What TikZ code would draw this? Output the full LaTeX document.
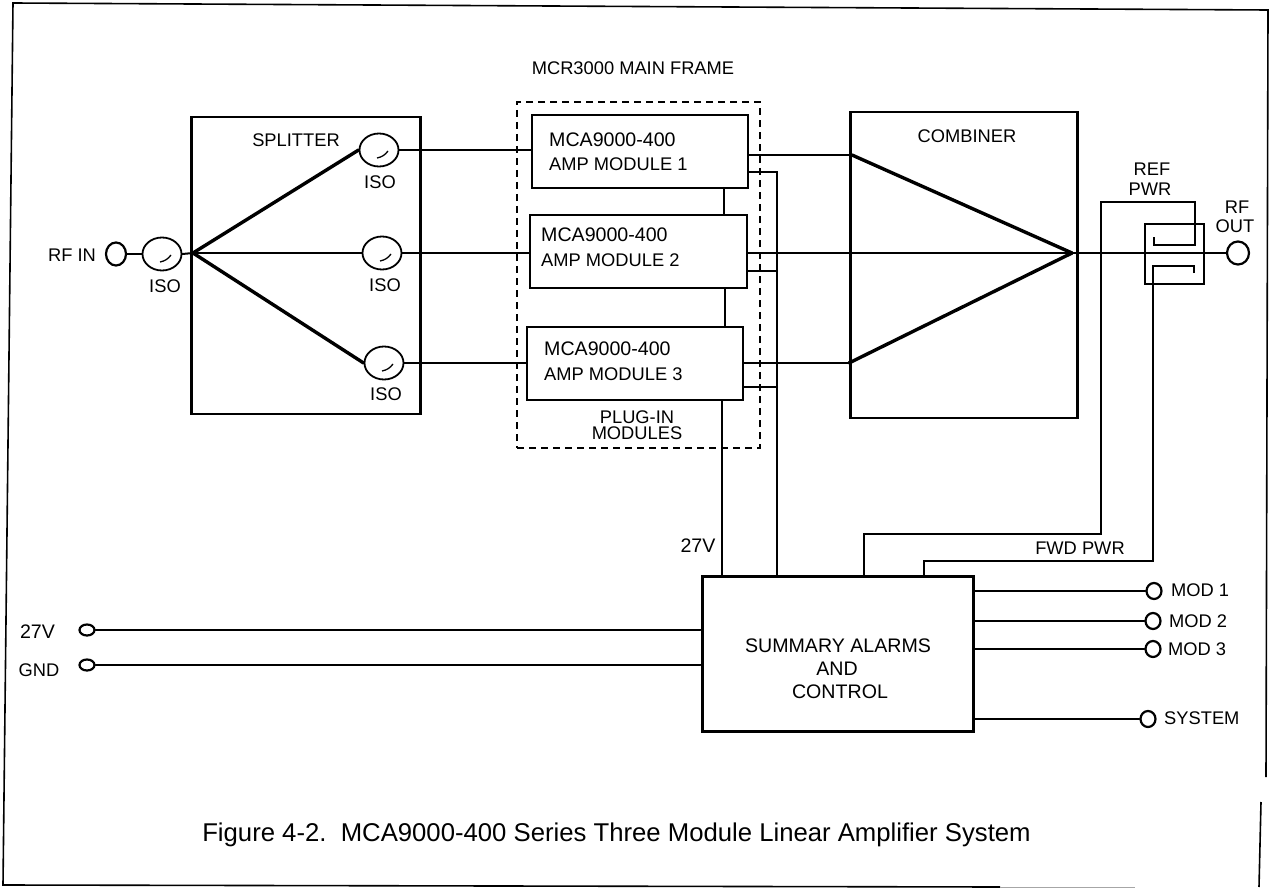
\documentclass[tikz,border=0pt]{standalone}
\usepackage{fontspec}
\setmainfont{Liberation Sans}
\usetikzlibrary{calc,shapes.geometric}

\tikzset{
	wire/.style={line width=2pt, line cap=round},
	wirethin/.style={line width=1.3pt},
	wirethick/.style={line width=3.4pt, line cap=round},
	boxa/.style={draw, line width=2.4pt, inner sep=0pt},
	isolator/.style={draw, ellipse, line width=1.8pt, inner sep=0pt, minimum width=39, minimum height=33},
	port/.style={draw, ellipse, line width=2.2pt, inner sep=0pt, minimum width=15, minimum height=16},
	lbl/.style={inner sep=0pt, font=\fontsize{18.3}{20}\selectfont},
	lblwide/.style={lbl, font=\fontsize{19.6}{22}\selectfont},
}

\begin{document}
\begin{tikzpicture}[x=1pt, y=-1pt]
	\useasboundingbox (0,0) rectangle (1270,888);

	% outer frame
	\draw [line width=1.6pt] (1266,777) -- (1268,10) -- (13,3) -- (3,885) -- (1000,887);
	\draw [line width=1.6pt] (1261,802) -- (1259,887);
	\draw [line width=1pt, black!35] (1000,887) -- (1135,887);

	% boxes
	\node [boxa, minimum width=229, minimum height=297] (splitter) at (306,265.5) {};
	\node [boxa, minimum width=216, minimum height=73] (amp1) at (640,151.5) {};
	\node [boxa, minimum width=217, minimum height=73] (amp2) at (638.5,251.5) {};
	\node [boxa, minimum width=216, minimum height=73] (amp3) at (635,363.5) {};
	\node [boxa, minimum width=227, minimum height=306] (combiner) at (964,265) {};
	\node [boxa, line width=3pt, minimum width=271, minimum height=155] (summary) at (837.5,653.5) {};
	\node [draw, dash pattern=on 7pt off 5pt, line width=1.5pt, minimum width=243, minimum height=346] (frame) at (638.5,275) {};
	\node [draw, line width=1.3pt, minimum width=59, minimum height=60] (coupler) at (1174.5,254) {};

	% isolators
	\node [isolator] (isoin) at (162,254) {};
	\node [isolator] (isoa) at (379,150) {};
	\node [isolator] (isob) at (382,253) {};
	\node [isolator] (isoc) at (384,363) {};
	\foreach \iso in {isoin,isoa,isob,isoc}
		\draw [wirethin] ($(\iso)+(-2,8)$) .. controls ($(\iso)+(3,7)$) and ($(\iso)+(6,5)$) .. ($(\iso)+(9,1)$);

	% ports
	\node [port, minimum width=20, minimum height=23] (rfin) at (116,254) {};
	\node [port, minimum width=22, minimum height=23] (rfout) at (1238,253) {};
	\node [port, minimum height=11] (dcv) at (87,630) {};
	\node [port, minimum height=11] (dcgnd) at (87,665) {};
	\node [port] (moda) at (1154,591) {};
	\node [port] (modb) at (1153,621) {};
	\node [port] (modc) at (1153,649) {};
	\node [port] (system) at (1148,719) {};

	\coordinate (splitjoin) at (193,253);
	\coordinate (combjoin) at (1072,253);
	\coordinate (combup) at (852,155);
	\coordinate (comblow) at (849,363);

	% splitter and combiner
	\draw [wire] (rfin.east) -- (isoin.west);
	\draw [wire] (isoin.east) -- (splitjoin);
	\draw [wirethick] (splitjoin) -- (isoa.west);
	\draw [wire] (splitjoin) -- (isob.west);
	\draw [wirethick] (splitjoin) -- (isoc.west);
	\draw [wire] (isoa.east) -- (isoa.east -| amp1.west);
	\draw [wire] (isob.east) -- (isob.east -| amp2.west);
	\draw [wire] (isoc.east) -- (isoc.east -| amp3.west);
	\draw [wirethick] (combup) -- (combjoin);
	\draw [wirethick] (comblow) -- (combjoin);
	\draw [wire] (combjoin) -- (rfout.west);
	\draw [wire] (combup -| amp1.east) -- (combup);
	\draw [wire] (combjoin -| amp2.east) -- (combjoin);
	\draw [wire] (comblow -| amp3.east) -- (comblow);

	% dc feed and monitor lines
	\coordinate (busin) at (777,576);
	\coordinate (dcin) at (722,576);
	\coordinate (amp1mon) at (748,172);
	\coordinate (amp2mon) at (747,271);
	\coordinate (amp3mon) at (743,387);
	\coordinate (linka) at (724,188);
	\coordinate (linkb) at (725,288);
	\draw [wire] (amp1mon) -| (busin);
	\draw [wire] (amp2mon) -- (amp2mon -| busin);
	\draw [wire] (amp3mon) -- (amp3mon -| busin);
	\draw [wire] (linka) -- (linka |- amp2.north);
	\draw [wire] (linkb) -- (linkb |- amp3.north);
	\draw [wire] (dcin |- amp3.south) -- (dcin);

	% power sampling
	\coordinate (refa) at (1154,237);
	\coordinate (refb) at (1154,245);
	\coordinate (refc) at (1195,245);
	\coordinate (refd) at (1195,202);
	\coordinate (refe) at (1101,202);
	\coordinate (reff) at (1101,534);
	\coordinate (refg) at (864,534);
	\coordinate (fwda) at (1194,273);
	\coordinate (fwdb) at (1194,266);
	\coordinate (fwdc) at (1153,266);
	\coordinate (fwdd) at (1153,561);
	\coordinate (fwde) at (924,561);
	\draw [wirethin] (refa) -- (refb) -- (refc) -- (refd) -- (refe) -- (reff) -- (refg) -- (refg |- summary.north);
	\draw [wirethin] (fwda) -- (fwdb) -- (fwdc) -- (fwdd) -- (fwde) -- (fwde |- summary.north);

	% control outputs and dc input
	\draw [wire] (moda.west -| summary.east) -- (moda.west);
	\draw [wire] (modb.west -| summary.east) -- (modb.west);
	\draw [wire] (modc.west -| summary.east) -- (modc.west);
	\draw [wire] (system.west -| summary.east) -- (system.west);
	\draw [wire] (dcv.east) -- (dcv.east -| summary.west);
	\draw [wire] (dcgnd.east) -- (dcgnd.east -| summary.west);

	% labels
	\node [lbl] (rfinlbl) at (72,255) {RF IN};
	\node [lbl] (isoinlbl) at (165,286) {ISO};
	\node [lbl] (isoalbl) at (380,182) {ISO};
	\node [lbl] (isoblbl) at (385,285) {ISO};
	\node [lbl] (isoclbl) at (386,394) {ISO};
	\node [lbl] (splitterlbl) at (296,140) {SPLITTER};
	\node [lbl] (framelbl) at (633,68) {MCR3000 MAIN FRAME};
	\node [lblwide, anchor=west] (amp1lbla) at (549,140) {MCA9000-400};
	\node [lbl, anchor=west] (amp1lblb) at (549,164) {AMP MODULE 1};
	\node [lblwide, anchor=west] (amp2lbla) at (541,235) {MCA9000-400};
	\node [lbl, anchor=west] (amp2lblb) at (541,260) {AMP MODULE 2};
	\node [lblwide, anchor=west] (amp3lbla) at (544,349) {MCA9000-400};
	\node [lbl, anchor=west] (amp3lblb) at (544,374) {AMP MODULE 3};
	\node [lbl] (pluglbl) at (637,417) {PLUG-IN};
	\node [lbl] (modlbl) at (637,433) {MODULES};
	\node [lbl] (comblbl) at (967,136) {COMBINER};
	\node [lbl] (reflbl) at (1152,169) {REF};
	\node [lbl] (pwrlbl) at (1150,189) {PWR};
	\node [lbl] (rflbl) at (1237,207) {RF};
	\node [lbl] (outlbl) at (1235,226) {OUT};
	\node [lblwide] (dclbl) at (698,546) {27V};
	\node [lbl] (fwdlbl) at (1080,548) {FWD PWR};
	\node [lblwide] (sumlbla) at (838,646) {SUMMARY ALARMS};
	\node [lblwide] (sumlblb) at (837,669) {AND};
	\node [lblwide] (sumlblc) at (840,692) {CONTROL};
	\node [lbl, anchor=west] (modalbl) at (1171,590) {MOD 1};
	\node [lbl, anchor=west] (modblbl) at (1169,621) {MOD 2};
	\node [lbl, anchor=west] (modclbl) at (1168,649) {MOD 3};
	\node [lbl, anchor=west] (syslbl) at (1164,718) {SYSTEM};
	\node [lblwide] (dcvlbl) at (37.5,632) {27V};
	\node [lbl] (dcgndlbl) at (39,670) {GND};
	\node [lbl, font=\fontsize{25.7}{28}\selectfont] (caption) at (616.5,835) {Figure 4-2.\ \ MCA9000-400 Series Three Module Linear Amplifier System};
\end{tikzpicture}
\end{document}
